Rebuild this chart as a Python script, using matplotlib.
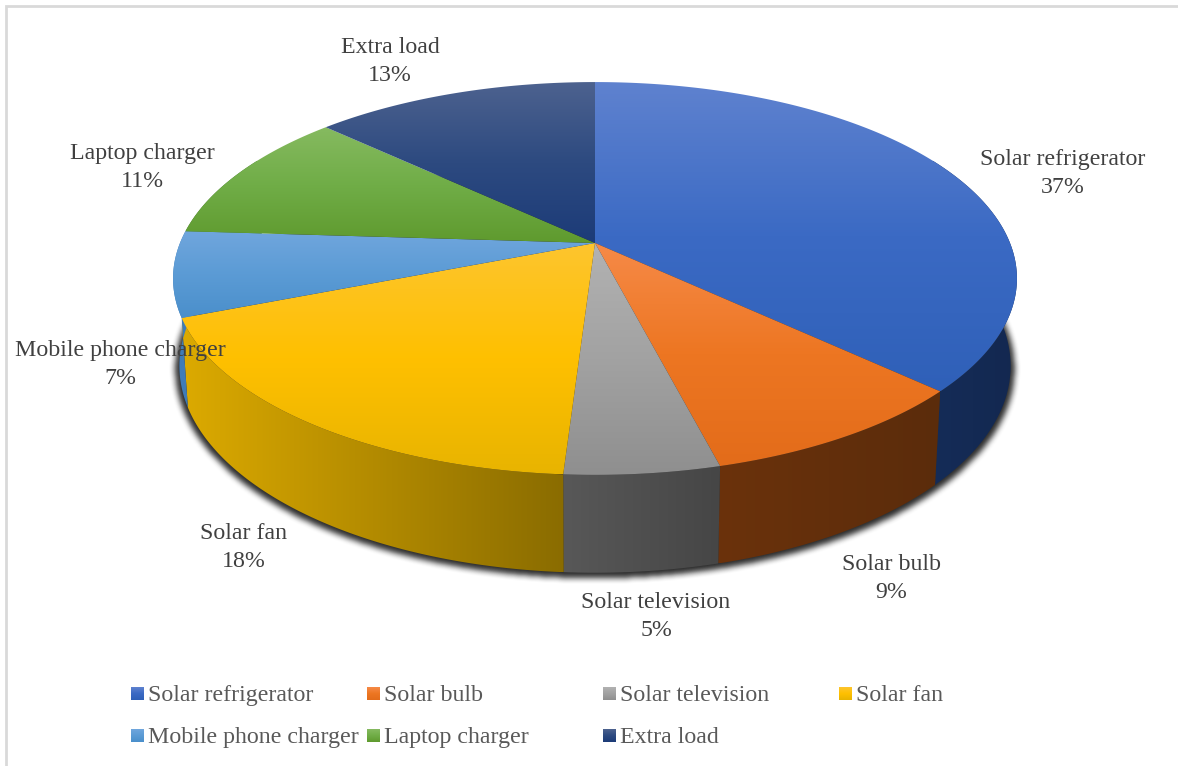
import numpy as np
import matplotlib
matplotlib.use("Agg")
import matplotlib.pyplot as plt
from matplotlib.colors import LinearSegmentedColormap
from matplotlib.patches import Polygon
from matplotlib.path import Path

categories = ["Solar refrigerator", "Solar bulb", "Solar television", "Solar fan",
              "Mobile phone charger", "Laptop charger", "Extra load"]
shares = [37, 9, 5, 18, 7, 11, 13]

# Vertical shading of each slice's upper face, light to dark.
top_shades = [
    ["#5f82cf", "#3b6ac4", "#2f60b8"],
    ["#f68a48", "#ed7622", "#e36c1a"],
    ["#b2b2b2", "#a2a2a2", "#8f8f8f"],
    ["#fdc52f", "#ffc000", "#e8b400"],
    ["#70a6dd", "#5b9bd5", "#4a8fcb"],
    ["#86ba60", "#70ad47", "#5f9a2e"],
    ["#4d628f", "#2d4a80", "#1c3b78"],
]
# Horizontal shading of each slice's rim, left to right.
rim_shades = [
    ["#152c58", "#132850"],
    ["#6b320b", "#5b2c0c"],
    ["#585858", "#464646"],
    ["#dcaa00", "#8a6c00"],
    ["#3f7cb8", "#3f7cb8"],
    ["#3f7030", "#3f7030"],
    ["#14284f", "#14284f"],
]
label_center_x = [1063, 891, 656, 244, 120, 142, 390]
label_baseline = [165, 570, 608, 539, 356, 159, 53]

W, H = 1178, 766
CX, CY = 595.0, 243.0
RX, RY, TILT = 415.0, 190.0, 0.1806
RIM_X, RIM_Y, RIM_CY = 0.985, 1.053, 328.6


def top_face(theta):
    """Project clockwise-from-north angles onto the tilted disc."""
    u, v = np.sin(theta), np.cos(theta)
    w = 1 + TILT * v
    return CX + RX * u / w, CY - RY * v / w


def lower_face(theta):
    x, y = top_face(theta)
    return CX + RIM_X * (x - CX), RIM_CY + RIM_Y * (y - CY)


def gradient_fill(ax, xs, ys, colors, horizontal=False, z=2):
    """Fill a polygon with a linear gradient clipped to its outline."""
    cmap = LinearSegmentedColormap.from_list("shade", colors)
    ramp = np.linspace(0, 1, 256)
    ramp = ramp[None, :] if horizontal else ramp[:, None]
    im = ax.imshow(ramp, cmap=cmap, vmin=0, vmax=1, aspect="auto", interpolation="bilinear",
                   extent=(xs.min(), xs.max(), ys.max(), ys.min()), zorder=z)
    im.set_clip_path(Polygon(np.column_stack([xs, ys]), closed=True, transform=ax.transData))


def box_blur(mask, size):
    """Separable box blur, run twice for a softer falloff."""
    kernel = np.ones(size) / size
    out = mask
    for _ in range(2):
        out = np.apply_along_axis(lambda r: np.convolve(r, kernel, mode="same"), 0, out)
        out = np.apply_along_axis(lambda r: np.convolve(r, kernel, mode="same"), 1, out)
    return out


fig = plt.figure(figsize=(W / 100, H / 100), dpi=100, facecolor="white")
ax = fig.add_axes([0, 0, 1, 1])
ax.axis("off")
plt.rcParams["font.family"] = ["Liberation Serif", "DejaVu Serif"]

# Chart frame: top and left edges only
ax.plot([5.5, 5.5, W], [H, 5.5, 5.5], color="#d9d9d9", lw=2, zorder=0, solid_joinstyle="miter")

fractions = np.cumsum([0] + shares) / sum(shares)
angles = 2 * np.pi * fractions

# Soft drop shadow: a slightly enlarged lower outline, blurred and laid under the rim
ring = np.linspace(0, 2 * np.pi, 400)
rx, ry = lower_face(ring)
sx = CX + (rx - CX) * 1.01
sy = RIM_CY + 40 + (ry - RIM_CY - 40) * 1.012 + 3
gx, gy = np.meshgrid(np.arange(W), np.arange(H))
inside = Path(np.column_stack([sx, sy])).contains_points(
    np.column_stack([gx.ravel() + 0.5, gy.ravel() + 0.5])).reshape(H, W)
soft = box_blur(inside.astype(float), 7)
shadow = np.zeros((H, W, 4))
shadow[..., :3] = 0.13
shadow[..., 3] = soft * 0.95
ax.imshow(shadow, extent=(0, W, H, 0), aspect="auto", interpolation="bilinear", zorder=1)

# Rims, drawn only along the near half of the disc
near_lo, near_hi = np.radians(62), np.radians(298)
for i, colors in enumerate(rim_shades):
    a0, a1 = max(angles[i], near_lo), min(angles[i + 1], near_hi)
    if a1 <= a0:
        continue
    th = np.linspace(a0, a1, 120)
    xt, yt = top_face(th)
    xb, yb = lower_face(th)
    xs = np.concatenate([xt, xb[::-1]])
    ys = np.concatenate([yt, yb[::-1]])
    gradient_fill(ax, xs, ys, colors, horizontal=True, z=2)

# Upper faces of the slices
for i, colors in enumerate(top_shades):
    th = np.linspace(angles[i], angles[i + 1], 200)
    xt, yt = top_face(th)
    xs = np.concatenate([[CX], xt])
    ys = np.concatenate([[CY], yt])
    gradient_fill(ax, xs, ys, colors, z=3)

# Data labels: name on one baseline, share on the next
for name, share, lx, ly in zip(categories, shares, label_center_x, label_baseline):
    ax.text(lx, ly, name, ha="center", va="baseline", fontsize=17.2, color="#404040", zorder=5)
    ax.text(lx, ly + 28, f"{share}%", ha="center", va="baseline", fontsize=17.2,
            color="#404040", zorder=5)

# Legend laid out on a fixed grid, four entries per row
legend_x = [131, 367, 603, 839]
legend_y = [694, 736]
for i, name in enumerate(categories):
    x0, y0 = legend_x[i % 4], legend_y[i // 4]
    xs = np.array([x0, x0 + 13, x0 + 13, x0], float)
    ys = np.array([y0 - 7, y0 - 7, y0 + 6, y0 + 6], float)
    gradient_fill(ax, xs, ys, top_shades[i], z=3)
    ax.text(x0 + 17, y0 + 7, name, ha="left", va="baseline", fontsize=17.2,
            color="#595959", zorder=5)

ax.set_xlim(0, W)
ax.set_ylim(H, 0)
fig.savefig("out.png", dpi=100, facecolor="white")
